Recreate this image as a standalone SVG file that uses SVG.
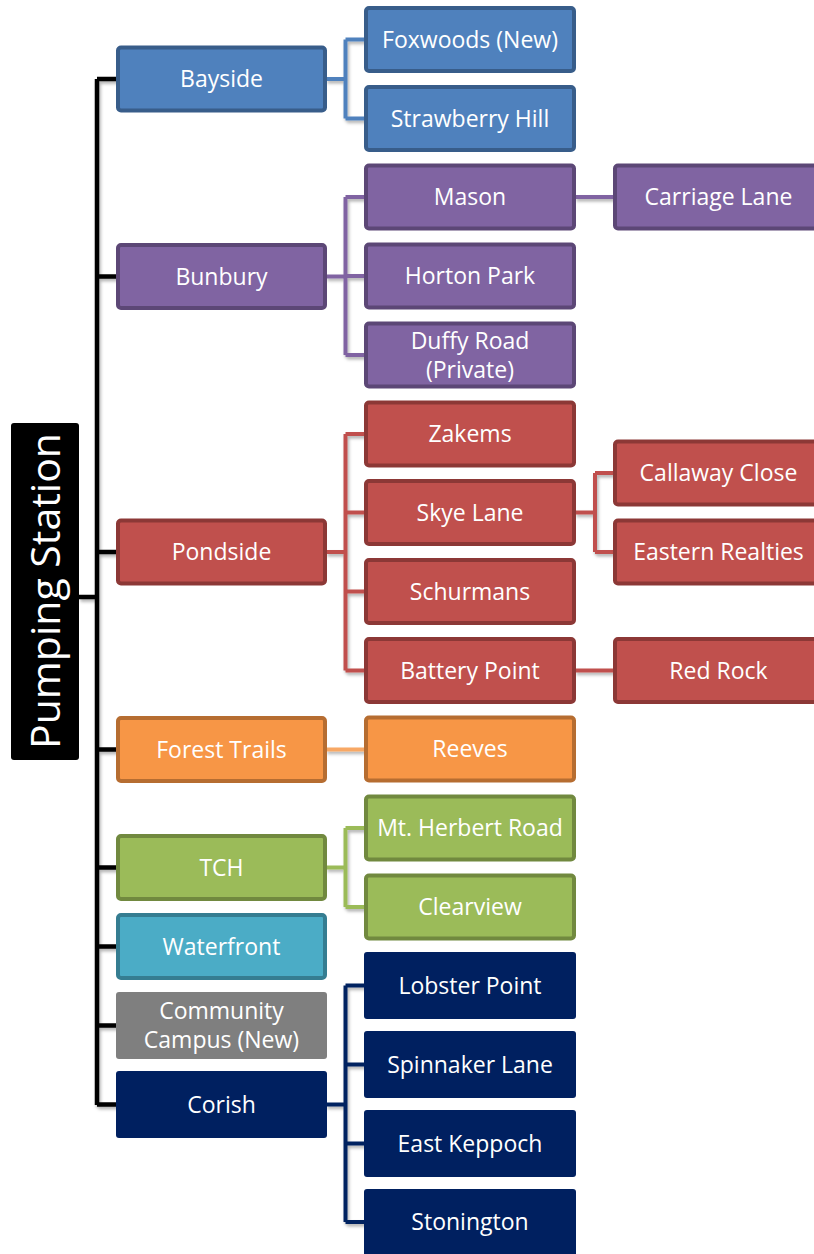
<svg xmlns="http://www.w3.org/2000/svg" width="814" height="1254" viewBox="0 0 814 1254">
<defs>
<filter id="sh" filterUnits="userSpaceOnUse" x="0" y="0" width="814" height="1254">
<feDropShadow dx="1.5" dy="2.5" stdDeviation="1.5" flood-color="#000" flood-opacity="0.3"/>
</filter>
</defs>
<style>
text{font-family:"Open Sans","Noto Sans",sans-serif;font-size:23px;fill:#fff;text-anchor:middle}
.c{fill:none;stroke-width:4;filter:url(#sh)}
.k{stroke:#000;stroke-width:4.5}
.bl{fill:#4F81BD;stroke:#385D8A;stroke-width:4}
.pu{fill:#8064A2;stroke:#5C4776;stroke-width:4}
.re{fill:#C0504D;stroke:#8C3836;stroke-width:4}
.or{fill:#F79646;stroke:#B66D31;stroke-width:4}
.gr{fill:#9BBB59;stroke:#71893F;stroke-width:4}
.te{fill:#4BACC6;stroke:#357D91;stroke-width:4}
.gy{fill:#7F7F7F}
.nv{fill:#002060}
</style>
<g id="connectors">
<path class="c k" d="M79,597H97M97,79V1105M97,79H117M97,276.5H117M97,552H117M97,749.5H117M97,867.5H117M97,946.5H117M97,1025.5H117M97,1104.5H117"/>
<path class="c" stroke="#4F81BD" d="M326,79H345.5M345.5,39.5V118.5M345.5,39.5H365M345.5,118.5H365"/>
<path class="c" stroke="#8064A2" d="M326,276.5H345.5M345.5,197V355M345.5,197H365M345.5,276H365M345.5,355H365M575,197H614"/>
<path class="c" stroke="#C0504D" d="M326,552H345.5M345.5,434V670.5M345.5,434H365M345.5,512.5H365M345.5,591.5H365M345.5,670.5H365M575,512.5H595M595,473V552M595,473H614M595,552H614M575,670.5H614"/>
<path class="c" stroke="#F8A865" d="M326,749.5H365"/>
<path class="c" stroke="#9BBB59" d="M326,867.5H345.5M345.5,828V907M345.5,828H365M345.5,907H365"/>
<path class="c" stroke="#002060" d="M326,1104.5H345.5M345.5,985.5V1222M345.5,985.5H365M345.5,1064.5H365M345.5,1143.5H365M345.5,1222H365"/>
</g>
<g id="root"><rect x="11" y="423" width="68" height="337" rx="3" fill="#000"/><text transform="translate(60,591) rotate(-90)" style="font-size:41px">Pumping Station</text></g>
<g id="bayside"><rect class="bl" x="118" y="47.5" width="207" height="63" rx="3"/><text x="221.5" y="87">Bayside</text></g>
<g id="bunbury"><rect class="pu" x="118" y="245" width="207" height="63" rx="3"/><text x="221.5" y="284.5">Bunbury</text></g>
<g id="pondside"><rect class="re" x="118" y="520.5" width="207" height="63" rx="3"/><text x="221.5" y="560">Pondside</text></g>
<g id="foresttrails"><rect class="or" x="118" y="718" width="207" height="63" rx="3"/><text x="221.5" y="757.5">Forest Trails</text></g>
<g id="tch"><rect class="gr" x="118" y="836" width="207" height="63" rx="3"/><text x="221.5" y="875.5">TCH</text></g>
<g id="waterfront"><rect class="te" x="118" y="915" width="207" height="63" rx="3"/><text x="221.5" y="954.5">Waterfront</text></g>
<g id="community"><rect class="gy" x="116" y="992" width="211" height="67" rx="3"/><text x="221.5" y="1019">Community</text><text x="221.5" y="1048">Campus (New)</text></g>
<g id="corish"><rect class="nv" x="116" y="1071" width="211" height="67" rx="3"/><text x="221.5" y="1112.5">Corish</text></g>
<g id="foxwoods"><rect class="bl" x="366" y="8" width="208" height="63" rx="3"/><text x="470" y="47.5">Foxwoods (New)</text></g>
<g id="strawberryhill"><rect class="bl" x="366" y="87" width="208" height="63" rx="3"/><text x="470" y="126.5">Strawberry Hill</text></g>
<g id="mason"><rect class="pu" x="366" y="165.5" width="208" height="63" rx="3"/><text x="470" y="205">Mason</text></g>
<g id="hortonpark"><rect class="pu" x="366" y="244.5" width="208" height="63" rx="3"/><text x="470" y="284">Horton Park</text></g>
<g id="duffyroad"><rect class="pu" x="366" y="323.5" width="208" height="63" rx="3"/><text x="470" y="348.5">Duffy Road</text><text x="470" y="377.5">(Private)</text></g>
<g id="zakems"><rect class="re" x="366" y="402.5" width="208" height="63" rx="3"/><text x="470" y="442">Zakems</text></g>
<g id="skyelane"><rect class="re" x="366" y="481" width="208" height="63" rx="3"/><text x="470" y="520.5">Skye Lane</text></g>
<g id="schurmans"><rect class="re" x="366" y="560" width="208" height="63" rx="3"/><text x="470" y="599.5">Schurmans</text></g>
<g id="batterypoint"><rect class="re" x="366" y="639" width="208" height="63" rx="3"/><text x="470" y="678.5">Battery Point</text></g>
<g id="reeves"><rect class="or" x="366" y="717.5" width="208" height="63" rx="3"/><text x="470" y="757">Reeves</text></g>
<g id="mtherbert"><rect class="gr" x="366" y="796.5" width="208" height="63" rx="3"/><text x="470" y="836">Mt. Herbert Road</text></g>
<g id="clearview"><rect class="gr" x="366" y="875.5" width="208" height="63" rx="3"/><text x="470" y="915">Clearview</text></g>
<g id="lobsterpoint"><rect class="nv" x="364" y="952" width="212" height="67" rx="3"/><text x="470" y="993.5">Lobster Point</text></g>
<g id="spinnakerlane"><rect class="nv" x="364" y="1031" width="212" height="67" rx="3"/><text x="470" y="1072.5">Spinnaker Lane</text></g>
<g id="eastkeppoch"><rect class="nv" x="364" y="1110" width="212" height="67" rx="3"/><text x="470" y="1151.5">East Keppoch</text></g>
<g id="stonington"><rect class="nv" x="364" y="1189" width="212" height="67" rx="3"/><text x="470" y="1230">Stonington</text></g>
<g id="carriagelane"><rect class="pu" x="615" y="165.5" width="208" height="63" rx="3"/><text x="718.5" y="205">Carriage Lane</text></g>
<g id="callawayclose"><rect class="re" x="615" y="441.5" width="208" height="63" rx="3"/><text x="718.5" y="481">Callaway Close</text></g>
<g id="easternrealties"><rect class="re" x="615" y="520.5" width="208" height="63" rx="3"/><text x="718.5" y="560">Eastern Realties</text></g>
<g id="redrock"><rect class="re" x="615" y="639" width="208" height="63" rx="3"/><text x="718.5" y="678.5">Red Rock</text></g>
</svg>
